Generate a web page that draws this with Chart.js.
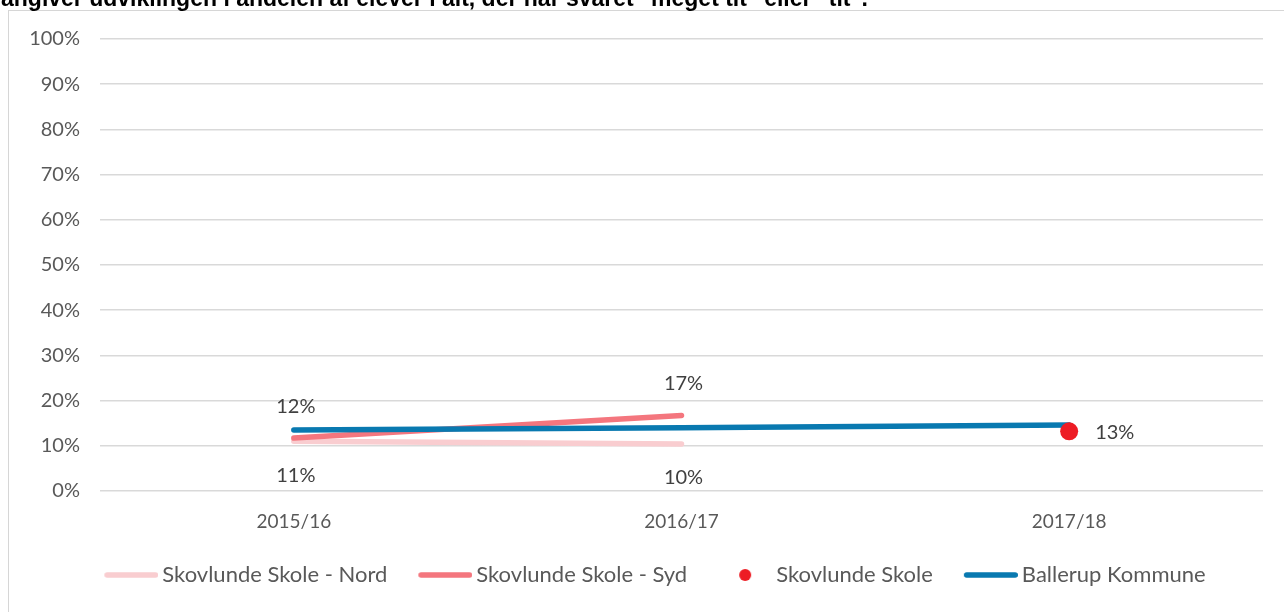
<!DOCTYPE html>
<html>
<head>
<meta charset="utf-8">
<script src="https://cdn.jsdelivr.net/npm/chart.js@4/dist/chart.umd.min.js"></script>
<style>
  html, body { margin: 0; padding: 0; background: #ffffff; width: 1284px; height: 612px; overflow: hidden; }
  #frame { position: absolute; left: 8px; top: 10px; width: 1300px; height: 700px; border: 1px solid #d6d6d6; box-sizing: border-box; }
  #title { position: absolute; left: 1px; top: -15px; font: bold 23px "Liberation Sans", Arial, sans-serif; line-height: 26px; color: #000; white-space: nowrap; }
  #c { position: absolute; left: 0; top: 0; }
</style>
</head>
<body>
<div id="frame"></div>
<canvas id="c" width="1284" height="612"></canvas>
<div id="title">angiver udviklingen i andelen af elever i alt, der har svaret "meget tit" eller "tit".</div>
<script>
// ---- data ----
const categories = ['2015/16', '2016/17', '2017/18'];
const nordValues = [11.0, 10.4, null];
const sydValues = [11.7, 16.7, null];
const skoleValues = [null, null, 13.2];
const ballerupValues = [13.5, 14.0, 14.6];
const seriesNames = ['Skovlunde Skole - Nord', 'Skovlunde Skole - Syd', 'Skovlunde Skole', 'Ballerup Kommune'];
const yTickValues = [0, 10, 20, 30, 40, 50, 60, 70, 80, 90, 100];

const FONT = 'Lato';
const colors = { nord: '#F9CDD0', syd: '#F4767E', skole: '#ED1C24', ballerup: '#0979B0' };

// legend sample images
function lineSample(color) {
  const c = document.createElement('canvas');
  c.width = 68; c.height = 10;
  const g = c.getContext('2d');
  g.strokeStyle = color; g.lineWidth = 5.5; g.lineCap = 'round';
  g.beginPath(); g.moveTo(16.75, 5); g.lineTo(65.25, 5); g.stroke();
  return c;
}
function dotSample(color) {
  const c = document.createElement('canvas');
  c.width = 68; c.height = 14;
  const g = c.getContext('2d');
  g.fillStyle = color;
  g.beginPath(); g.arc(41, 7, 6, 0, Math.PI * 2); g.fill();
  return c;
}
const legendSamples = [lineSample(colors.nord), lineSample(colors.syd), dotSample(colors.skole), lineSample(colors.ballerup)];

// data label plugin (labels placed relative to each point drawn by the library)
const labelPlacement = { 0: 'below', 1: 'above', 2: 'right' };
const pointLabels = {
  id: 'pointLabels',
  afterDatasetsDraw(chart) {
    const ctx = chart.ctx;
    ctx.save();
    ctx.font = '20px ' + FONT;
    ctx.fillStyle = '#404040';
    ctx.textBaseline = 'middle';
    chart.data.datasets.forEach((ds, i) => {
      const place = labelPlacement[i];
      if (!place) return;
      const meta = chart.getDatasetMeta(i);
      meta.data.forEach((pt, j) => {
        const v = ds.data[j];
        if (v === null || v === undefined) return;
        const txt = Math.round(v) + '%';
        if (place === 'above') { ctx.textAlign = 'center'; ctx.fillText(txt, pt.x + 2, pt.y - 32); }
        else if (place === 'below') { ctx.textAlign = 'center'; ctx.fillText(txt, pt.x + 2, pt.y + 34); }
        else { ctx.textAlign = 'left'; ctx.fillText(txt, pt.x + 26, pt.y + 1); }
      });
    });
    ctx.restore();
  }
};

// shift the legend box so the row is centred like the original
const legendShift = {
  id: 'legendShift',
  afterLayout(chart) {
    if (chart.legend) { chart.legend.left += 40; }
  }
};

const lineCommon = { borderWidth: 5.5, borderCapStyle: 'round', borderJoinStyle: 'round', pointRadius: 0, pointHoverRadius: 0, tension: 0, fill: false, spanGaps: false };

new Chart(document.getElementById('c'), {
  type: 'line',
  data: {
    labels: categories,
    datasets: [
      Object.assign({ label: seriesNames[0], data: nordValues, borderColor: colors.nord, backgroundColor: colors.nord, order: 3 }, lineCommon),
      Object.assign({ label: seriesNames[1], data: sydValues, borderColor: colors.syd, backgroundColor: colors.syd, order: 2 }, lineCommon),
      { label: seriesNames[2], data: skoleValues, showLine: false, pointRadius: 9, pointHoverRadius: 9, pointBorderWidth: 0, pointBackgroundColor: colors.skole, borderColor: colors.skole, backgroundColor: colors.skole, order: 0 },
      Object.assign({ label: seriesNames[3], data: ballerupValues, borderColor: colors.ballerup, backgroundColor: colors.ballerup, order: 1 }, lineCommon)
    ]
  },
  options: {
    responsive: false,
    animation: false,
    devicePixelRatio: 1,
    layout: { padding: { top: 39, right: 21, left: 0, bottom: 16 } },
    plugins: {
      tooltip: { enabled: false },
      title: { display: false },
      legend: {
        position: 'bottom',
        align: 'center',
        labels: {
          usePointStyle: true,
          pointStyleWidth: 54,
          boxHeight: 14,
          padding: 24,
          color: '#595959',
          font: { family: FONT, size: 22 },
          sort: (a, b) => a.datasetIndex - b.datasetIndex,
          generateLabels(chart) {
            return chart.data.datasets.map((ds, i) => ({
              text: ds.label,
              datasetIndex: i,
              pointStyle: legendSamples[i],
              fillStyle: ds.borderColor,
              strokeStyle: ds.borderColor,
              lineWidth: 0,
              fontColor: '#595959',
              hidden: false
            }));
          }
        }
      }
    },
    scales: {
      x: {
        offset: true,
        grid: { display: false, drawTicks: false },
        border: { display: false },
        ticks: { color: '#595959', font: { family: FONT, size: 19 }, padding: 19, maxRotation: 0 },
        afterFit(scale) { scale.height = 49; }
      },
      y: {
        min: 0, max: 100,
        afterBuildTicks(scale) { scale.ticks = yTickValues.map(v => ({ value: v })); },
        grid: { color: '#d9d9d9', lineWidth: 1.5, drawTicks: false },
        border: { display: false },
        ticks: { color: '#595959', font: { family: FONT, size: 20 }, padding: 20, callback: v => v + '%' },
        afterFit(scale) { scale.width = 100; }
      }
    }
  },
  plugins: [pointLabels, legendShift]
});
</script>
</body>
</html>
